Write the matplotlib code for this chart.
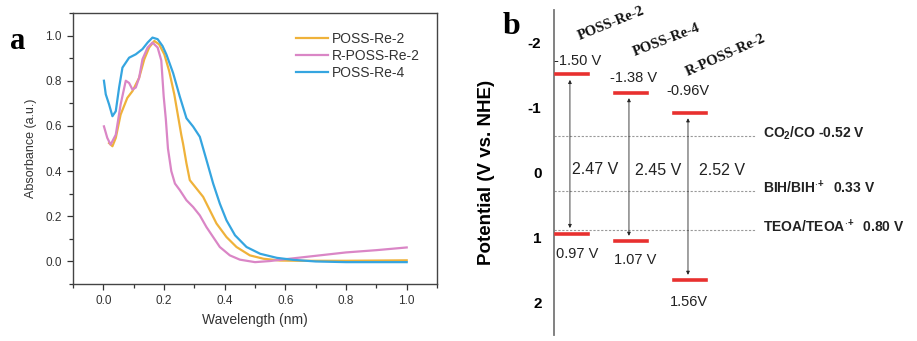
import numpy as np
import matplotlib
matplotlib.use('Agg')
import matplotlib.pyplot as plt
from matplotlib.ticker import MultipleLocator

plt.rcParams['font.family'] = ['Liberation Sans', 'DejaVu Sans']
plt.rcParams['axes.unicode_minus'] = False
plt.rcParams['mathtext.fontset'] = 'custom'
plt.rcParams['mathtext.rm'] = 'Liberation Sans:bold'
plt.rcParams['mathtext.it'] = 'Liberation Sans:bold'
plt.rcParams['mathtext.bf'] = 'Liberation Sans:bold'

# ---- panel a: absorbance spectra ----
re2_x = [0.019, 0.03, 0.041, 0.057, 0.079, 0.096, 0.118, 0.135, 0.151, 0.168, 0.184,
         0.201, 0.217, 0.234, 0.257, 0.263, 0.274, 0.285, 0.307, 0.329, 0.351, 0.373,
         0.406, 0.439, 0.483, 0.528, 0.583, 0.65, 0.7, 0.8, 0.9, 1.0]
re2_y = [0.524, 0.51, 0.547, 0.65, 0.724, 0.754, 0.813, 0.895, 0.947, 0.976, 0.961,
         0.917, 0.843, 0.739, 0.56, 0.52, 0.434, 0.36, 0.323, 0.286, 0.227, 0.168,
         0.108, 0.064, 0.027, 0.012, 0.004, 0.003, 0.003, 0.003, 0.004, 0.005]

rre2_x = [0.002, 0.013, 0.024, 0.041, 0.057, 0.074, 0.085, 0.096, 0.107, 0.118, 0.129,
          0.146, 0.162, 0.179, 0.191, 0.199, 0.206, 0.213, 0.224, 0.236, 0.252, 0.274,
          0.296, 0.318, 0.34, 0.362, 0.384, 0.417, 0.45, 0.5, 0.55, 0.6, 0.7, 0.8,
          0.9, 1.0]
rre2_y = [0.598, 0.547, 0.517, 0.561, 0.695, 0.80, 0.79, 0.761, 0.77, 0.813, 0.895,
          0.947, 0.969, 0.947, 0.89, 0.73, 0.63, 0.50, 0.40, 0.345, 0.316, 0.271,
          0.241, 0.204, 0.152, 0.108, 0.064, 0.027, 0.008, -0.003, 0.002, 0.01, 0.025,
          0.04, 0.05, 0.062]

re4_x = [0.002, 0.008, 0.019, 0.03, 0.041, 0.052, 0.063, 0.085, 0.107, 0.129, 0.146,
         0.162, 0.179, 0.195, 0.208, 0.23, 0.252, 0.274, 0.296, 0.318, 0.34, 0.362,
         0.384, 0.406, 0.434, 0.472, 0.517, 0.572, 0.627, 0.7, 0.8, 0.9, 1.0]
re4_y = [0.80, 0.74, 0.695, 0.643, 0.665, 0.77, 0.858, 0.902, 0.917, 0.94, 0.969,
         0.991, 0.984, 0.954, 0.916, 0.834, 0.73, 0.634, 0.597, 0.552, 0.449, 0.345,
         0.256, 0.182, 0.116, 0.064, 0.034, 0.016, 0.007, 0.0, -0.003, -0.003, -0.003]

series = [('POSS-Re-2', re2_x, re2_y, '#EFB23A'),
          ('R-POSS-Re-2', rre2_x, rre2_y, '#DA86C6'),
          ('POSS-Re-4', re4_x, re4_y, '#35A5E0')]

# ---- panel b: energy levels ----
compounds = ['POSS-Re-2', 'POSS-Re-4', 'R-POSS-Re-2']
lumo = [-1.51, -1.23, -0.92]          # drawn positions
homo = [0.94, 1.06, 1.66]
lumo_text = ['-1.50 V', '-1.38 V', '-0.96V']
homo_text = ['0.97 V', '1.07 V', '1.56V']
gap_text = ['2.47 V', '2.45 V', '2.52 V']
ref_levels = [-0.56, 0.28, 0.88]
ref_text = [r'CO$_2$/CO -0.52 V', r'BIH/BIH$^{\cdot\!+}$  0.33 V', r'TEOA/TEOA$^{\cdot\!+}$  0.80 V']

fig = plt.figure(figsize=(9.17, 3.41), dpi=100)

ax = fig.add_axes([0.0796, 0.167, 0.397, 0.795])
for name, x, y, c in series:
    ax.plot(x, y, color=c, lw=1.6, label=name)
ax.set_xlim(-0.1, 1.1)
ax.set_ylim(-0.1, 1.1)
ax.set_xticks([0, 0.2, 0.4, 0.6, 0.8, 1.0])
ax.set_yticks([0, 0.2, 0.4, 0.6, 0.8, 1.0])
ax.xaxis.set_minor_locator(MultipleLocator(0.1))
ax.yaxis.set_minor_locator(MultipleLocator(0.1))
ax.tick_params(which='both', direction='out', colors='#333333', labelsize=8.5, width=0.9)
ax.tick_params(which='major', length=4.5)
ax.tick_params(which='minor', length=3)
for s in ax.spines.values():
    s.set_color('#444444')
    s.set_linewidth(1.0)
ax.set_xlabel('Wavelength (nm)', fontsize=10, color='#333333', labelpad=4)
ax.set_ylabel('Absorbance (a.u.)', fontsize=9, color='#333333', labelpad=6)
leg = ax.legend(loc='upper left', bbox_to_anchor=(0.585, 0.965), frameon=False,
                fontsize=10, handlelength=2.3, labelspacing=0.2, borderpad=0.2,
                handletextpad=0.3)
for t in leg.get_texts():
    t.set_color('#333333')
fig.text(0.011, 0.855, 'a', fontsize=22, fontweight='bold', family='Liberation Serif')

# panel b
bx = fig.add_axes([554 / 917, 6 / 341, 363 / 917, 325 / 341])
bx.set_ylim(2.5, -2.5)
bx.set_xlim(-0.31, 5.84)
for k in ['top', 'right', 'bottom']:
    bx.spines[k].set_visible(False)
bx.spines['left'].set_color('#777777')
bx.spines['left'].set_linewidth(1.3)
bx.set_xticks([])
bx.set_yticks([-2, -1, 0, 1, 2])
bx.tick_params(axis='y', length=0, pad=9, labelsize=11)
for t in bx.get_yticklabels():
    t.set_fontweight('bold')
bx.set_ylabel('Potential (V vs. NHE)', fontsize=13.5, fontweight='bold', labelpad=24)

for r, txt in zip(ref_levels, ref_text):
    bx.plot([-0.31, 3.11], [r, r], color='#999999', lw=0.8, ls=(0, (2, 1.5)), zorder=1)
    bx.text(3.23, r - 0.04, txt, fontsize=10, fontweight='bold', va='center', ha='left',
            color='#222222')

lumo_lab_pos = [(0.09, -1.71), (1.03, -1.45), (1.96, -1.26)]
homo_lab_pos = [(0.09, 1.26), (1.06, 1.34), (1.97, 2.0)]
gap_lab_pos = [(0.38, -0.05), (1.45, -0.03), (2.53, -0.03)]
head_pos = [(0.66, -2.29), (1.60, -2.03), (2.60, -1.80)]
head_rot = [22, 21, 24]

for i, name in enumerate(compounds):
    bx.plot([i - 0.27, i + 0.27], [lumo[i], lumo[i]], color='#E8302F', lw=2.6, zorder=3)
    bx.plot([i - 0.27, i + 0.27], [homo[i], homo[i]], color='#E8302F', lw=2.6, zorder=3)
    bx.annotate('', xy=(i - 0.04, homo[i]), xytext=(i - 0.04, lumo[i]),
                arrowprops=dict(arrowstyle='<|-|>', color='#222222', lw=0.6,
                                mutation_scale=5, shrinkA=4, shrinkB=4))
    bx.text(*lumo_lab_pos[i], lumo_text[i], fontsize=10.5, ha='center', va='center',
            color='#222222')
    bx.text(*homo_lab_pos[i], homo_text[i], fontsize=10.5, ha='center', va='center',
            color='#222222')
    bx.text(*gap_lab_pos[i], gap_text[i], fontsize=11.5, ha='center', va='center',
            color='#222222')
    bx.text(*head_pos[i], name, fontsize=10.5, fontweight='bold', family='Liberation Serif',
            rotation=head_rot[i], ha='center', va='center', color='#111111')

fig.text(0.548, 0.9, 'b', fontsize=23, fontweight='bold', family='Liberation Serif')

fig.savefig('out.png', dpi=100)
